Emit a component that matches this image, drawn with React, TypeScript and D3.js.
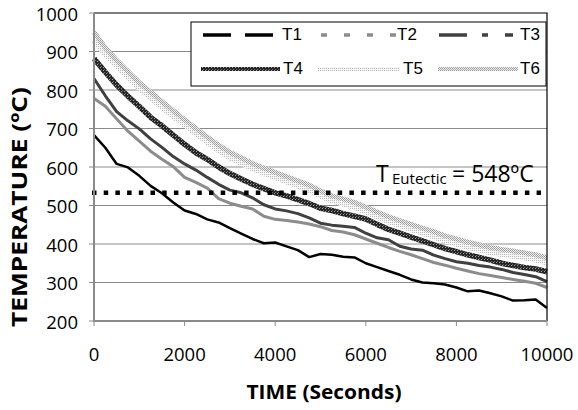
import React from 'react';
import * as d3 from 'd3';

const times = [0, 250, 500, 750, 1000, 1250, 1500, 1750, 2000, 2250, 2500, 2750, 3000, 3250, 3500, 3750, 4000, 4250, 4500, 4750, 5000, 5250, 5500, 5750, 6000, 6250, 6500, 6750, 7000, 7250, 7500, 7750, 8000, 8250, 8500, 8750, 9000, 9250, 9500, 9750, 10000];

const t1 = [683, 650, 608, 599, 577, 551, 532, 508, 487, 478, 464, 456, 441, 427, 413, 402, 404, 394, 384, 366, 374, 372, 367, 365, 350, 340, 330, 320, 308, 300, 298, 295, 287, 277, 279, 272, 264, 253, 254, 256, 234];
const t2 = [778, 758, 725, 693, 667, 641, 620, 601, 573, 560, 545, 518, 506, 498, 491, 472, 464, 461, 457, 452, 445, 435, 431, 424, 413, 402, 391, 381, 372, 362, 352, 345, 337, 330, 323, 318, 313, 308, 303, 298, 287];
const t3 = [830, 785, 744, 720, 699, 673, 651, 627, 608, 592, 573, 555, 540, 533, 520, 502, 491, 486, 479, 468, 454, 449, 446, 443, 428, 416, 411, 394, 387, 384, 371, 362, 354, 350, 344, 340, 334, 326, 321, 315, 302];
const t4 = [882, 846, 813, 784, 757, 729, 707, 683, 659, 637, 620, 600, 583, 569, 555, 544, 533, 525, 515, 505, 493, 487, 479, 472, 465, 451, 438, 428, 418, 408, 398, 388, 380, 372, 365, 358, 350, 344, 339, 335, 328];
const t5 = [928, 892, 862, 833, 804, 780, 755, 731, 709, 686, 664, 643, 624, 610, 596, 584, 573, 562, 551, 540, 525, 512, 504, 495, 483, 470, 458, 448, 438, 428, 419, 408, 400, 392, 385, 378, 373, 369, 364, 359, 352];
const t6 = [950, 910, 877, 848, 819, 795, 770, 746, 723, 700, 678, 657, 638, 624, 609, 597, 586, 575, 564, 553, 538, 525, 517, 508, 496, 483, 471, 461, 451, 441, 432, 421, 413, 405, 398, 391, 386, 382, 377, 372, 364];

const seriesNames = ['T1', 'T2', 'T3', 'T4', 'T5', 'T6'];
const yTicks = [200, 300, 400, 500, 600, 700, 800, 900, 1000];
const xTicks = [0, 2000, 4000, 6000, 8000, 10000];
const eutecticLine = 533;
const eutecticMain = 'T';
const eutecticSub = 'Eutectic';
const eutecticRest = '= 548ºC';
const xTitle = 'TIME (Seconds)';
const yTitle = 'TEMPERATURE (ºC)';

export default function App() {
  const W = 578, H = 410;
  const x = d3.scaleLinear().domain([0, 10000]).range([94, 547]);
  const y = d3.scaleLinear().domain([200, 1000]).range([321, 13]);
  const line = (vals: number[]) =>
    d3.line<number>().x((_, i) => x(times[i])).y((d) => y(d))(vals) || '';

  const tickFont = '"Open Sans", sans-serif';
  const legFont = '"Liberation Sans", Arial, sans-serif';

  const curves = [
    { v: t5, stroke: 'url(#p5)', w: 5.5 },
    { v: t6, stroke: 'url(#p6)', w: 5 },
    { v: t4, stroke: 'url(#p4)', w: 5.5 },
    { v: t3, stroke: '#404040', w: 3 },
    { v: t2, stroke: '#8c8c8c', w: 3 },
    { v: t1, stroke: '#000', w: 2.5 },
  ];

  const legend = [
    { name: seriesNames[0], x1: 203, x2: 273, stroke: '#000', dash: '28 14', w: 3.5, tx: 282, row: 0 },
    { name: seriesNames[1], x1: 321, x2: 397, stroke: '#8c8c8c', dash: '6 17', w: 3.5, tx: 397, row: 0 },
    { name: seriesNames[2], x1: 439, x2: 513, stroke: '#404040', dash: '28 15 6 17 8', w: 3.5, tx: 520, row: 0 },
    { name: seriesNames[3], x1: 201, x2: 280, stroke: 'url(#p4)', dash: undefined, w: 4, tx: 283, row: 1 },
    { name: seriesNames[4], x1: 318, x2: 400, stroke: 'url(#p5)', dash: undefined, w: 4, tx: 403, row: 1 },
    { name: seriesNames[5], x1: 438, x2: 518, stroke: 'url(#p6)', dash: undefined, w: 4, tx: 520, row: 1 },
  ];
  const rowY = [35, 69];
  const rowBase = [39.5, 74];

  return (
    <svg width={W} height={H} style={{ position: 'absolute', left: 0, top: 0, background: '#fff' }}>
      <defs>
        <pattern id="p4" width="3" height="3" patternUnits="userSpaceOnUse">
          <rect width="3" height="3" fill="#262626" />
          <rect x="1" y="1" width="1" height="1" fill="#a0a0a0" />
          <rect x="2" y="0" width="1" height="1" fill="#6a6a6a" />
        </pattern>
        <pattern id="p5" width="2" height="2" patternUnits="userSpaceOnUse">
          <rect width="2" height="2" fill="#f6f6f6" />
          <rect x="0" y="0" width="1" height="1" fill="#bcbcbc" />
        </pattern>
        <pattern id="p6" width="2" height="2" patternUnits="userSpaceOnUse">
          <rect width="2" height="2" fill="#eeeeee" />
          <rect x="0" y="0" width="1" height="1" fill="#999999" />
          <rect x="1" y="1" width="1" height="1" fill="#a8a8a8" />
        </pattern>
      </defs>
      <rect width={W} height={H} fill="#fff" />

      {/* gridlines */}
      {yTicks.filter((t) => t > 200 && t < 1000).map((t) => (
        <line key={t} x1={x(0)} x2={x(10000)} y1={y(t)} y2={y(t)} stroke="#8a8a8a" strokeWidth={1} />
      ))}

      {/* curves */}
      {curves.map((c, i) => (
        <path key={i} d={line(c.v)} fill="none" stroke={c.stroke} strokeWidth={c.w} strokeLinejoin="round" />
      ))}

      {/* eutectic line */}
      <line x1={x(0) - 2} x2={x(10000) - 6} y1={y(eutecticLine)} y2={y(eutecticLine)}
        stroke="#000" strokeWidth={4.5} strokeDasharray="4.5 7.2" />
      <text x={376} y={181.5} fontFamily={tickFont} fontSize={23} fill="#000">{eutecticMain}</text>
      <text x={392} y={184} fontFamily={tickFont} fontSize={15} fill="#000">{eutecticSub}</text>
      <text x={452} y={181.5} fontFamily={tickFont} fontSize={23} fill="#000">{eutecticRest}</text>

      {/* plot border top/right */}
      <line x1={x(0)} x2={x(10000) + 0.5} y1={y(1000)} y2={y(1000)} stroke="#000" strokeWidth={1.2} />
      <line x1={x(10000)} x2={x(10000)} y1={y(1000)} y2={y(200)} stroke="#000" strokeWidth={1.2} />

      {/* axes */}
      <line x1={x(0)} x2={x(0)} y1={y(1000)} y2={y(200) + 1} stroke="#8a8a8a" strokeWidth={2} />
      <line x1={x(0) - 1} x2={x(10000)} y1={y(200)} y2={y(200)} stroke="#8a8a8a" strokeWidth={2} />
      {yTicks.map((t) => (
        <g key={t}>
          <line x1={x(0) - 5} x2={x(0)} y1={y(t)} y2={y(t)} stroke="#8a8a8a" strokeWidth={1} />
          <text x={78} y={y(t) + 1.5} dy="0.35em" textAnchor="end" fontFamily={tickFont} fontSize={18.5} fill="#000">{t}</text>
        </g>
      ))}
      {xTicks.map((t) => (
        <g key={t}>
          <line x1={x(t)} x2={x(t)} y1={y(200)} y2={y(200) + 5} stroke="#8a8a8a" strokeWidth={1} />
          <text x={x(t)} y={361} textAnchor="middle" fontFamily={tickFont} fontSize={18.5} fill="#000">{t}</text>
        </g>
      ))}

      {/* axis titles */}
      <text x={324} y={399} textAnchor="middle" fontFamily={tickFont} fontWeight="bold" fontSize={20}
        textLength={155} lengthAdjust="spacingAndGlyphs" fill="#000">{xTitle}</text>
      <text transform="translate(27,207) rotate(-90)" textAnchor="middle" fontFamily={tickFont} fontWeight="bold" fontSize={22}
        textLength={240} lengthAdjust="spacingAndGlyphs" fill="#000">{yTitle}</text>

      {/* legend */}
      <rect x={191} y={22} width={355} height={64} fill="#fff" stroke="#000" strokeWidth={1} />
      {legend.map((l) => (
        <g key={l.name}>
          <line x1={l.x1} x2={l.x2} y1={rowY[l.row]} y2={rowY[l.row]} stroke={l.stroke} strokeWidth={l.w}
            strokeDasharray={l.dash} />
          <text x={l.tx} y={rowBase[l.row]} fontFamily={legFont} fontSize={17} fill="#000">{l.name}</text>
        </g>
      ))}
    </svg>
  );
}
